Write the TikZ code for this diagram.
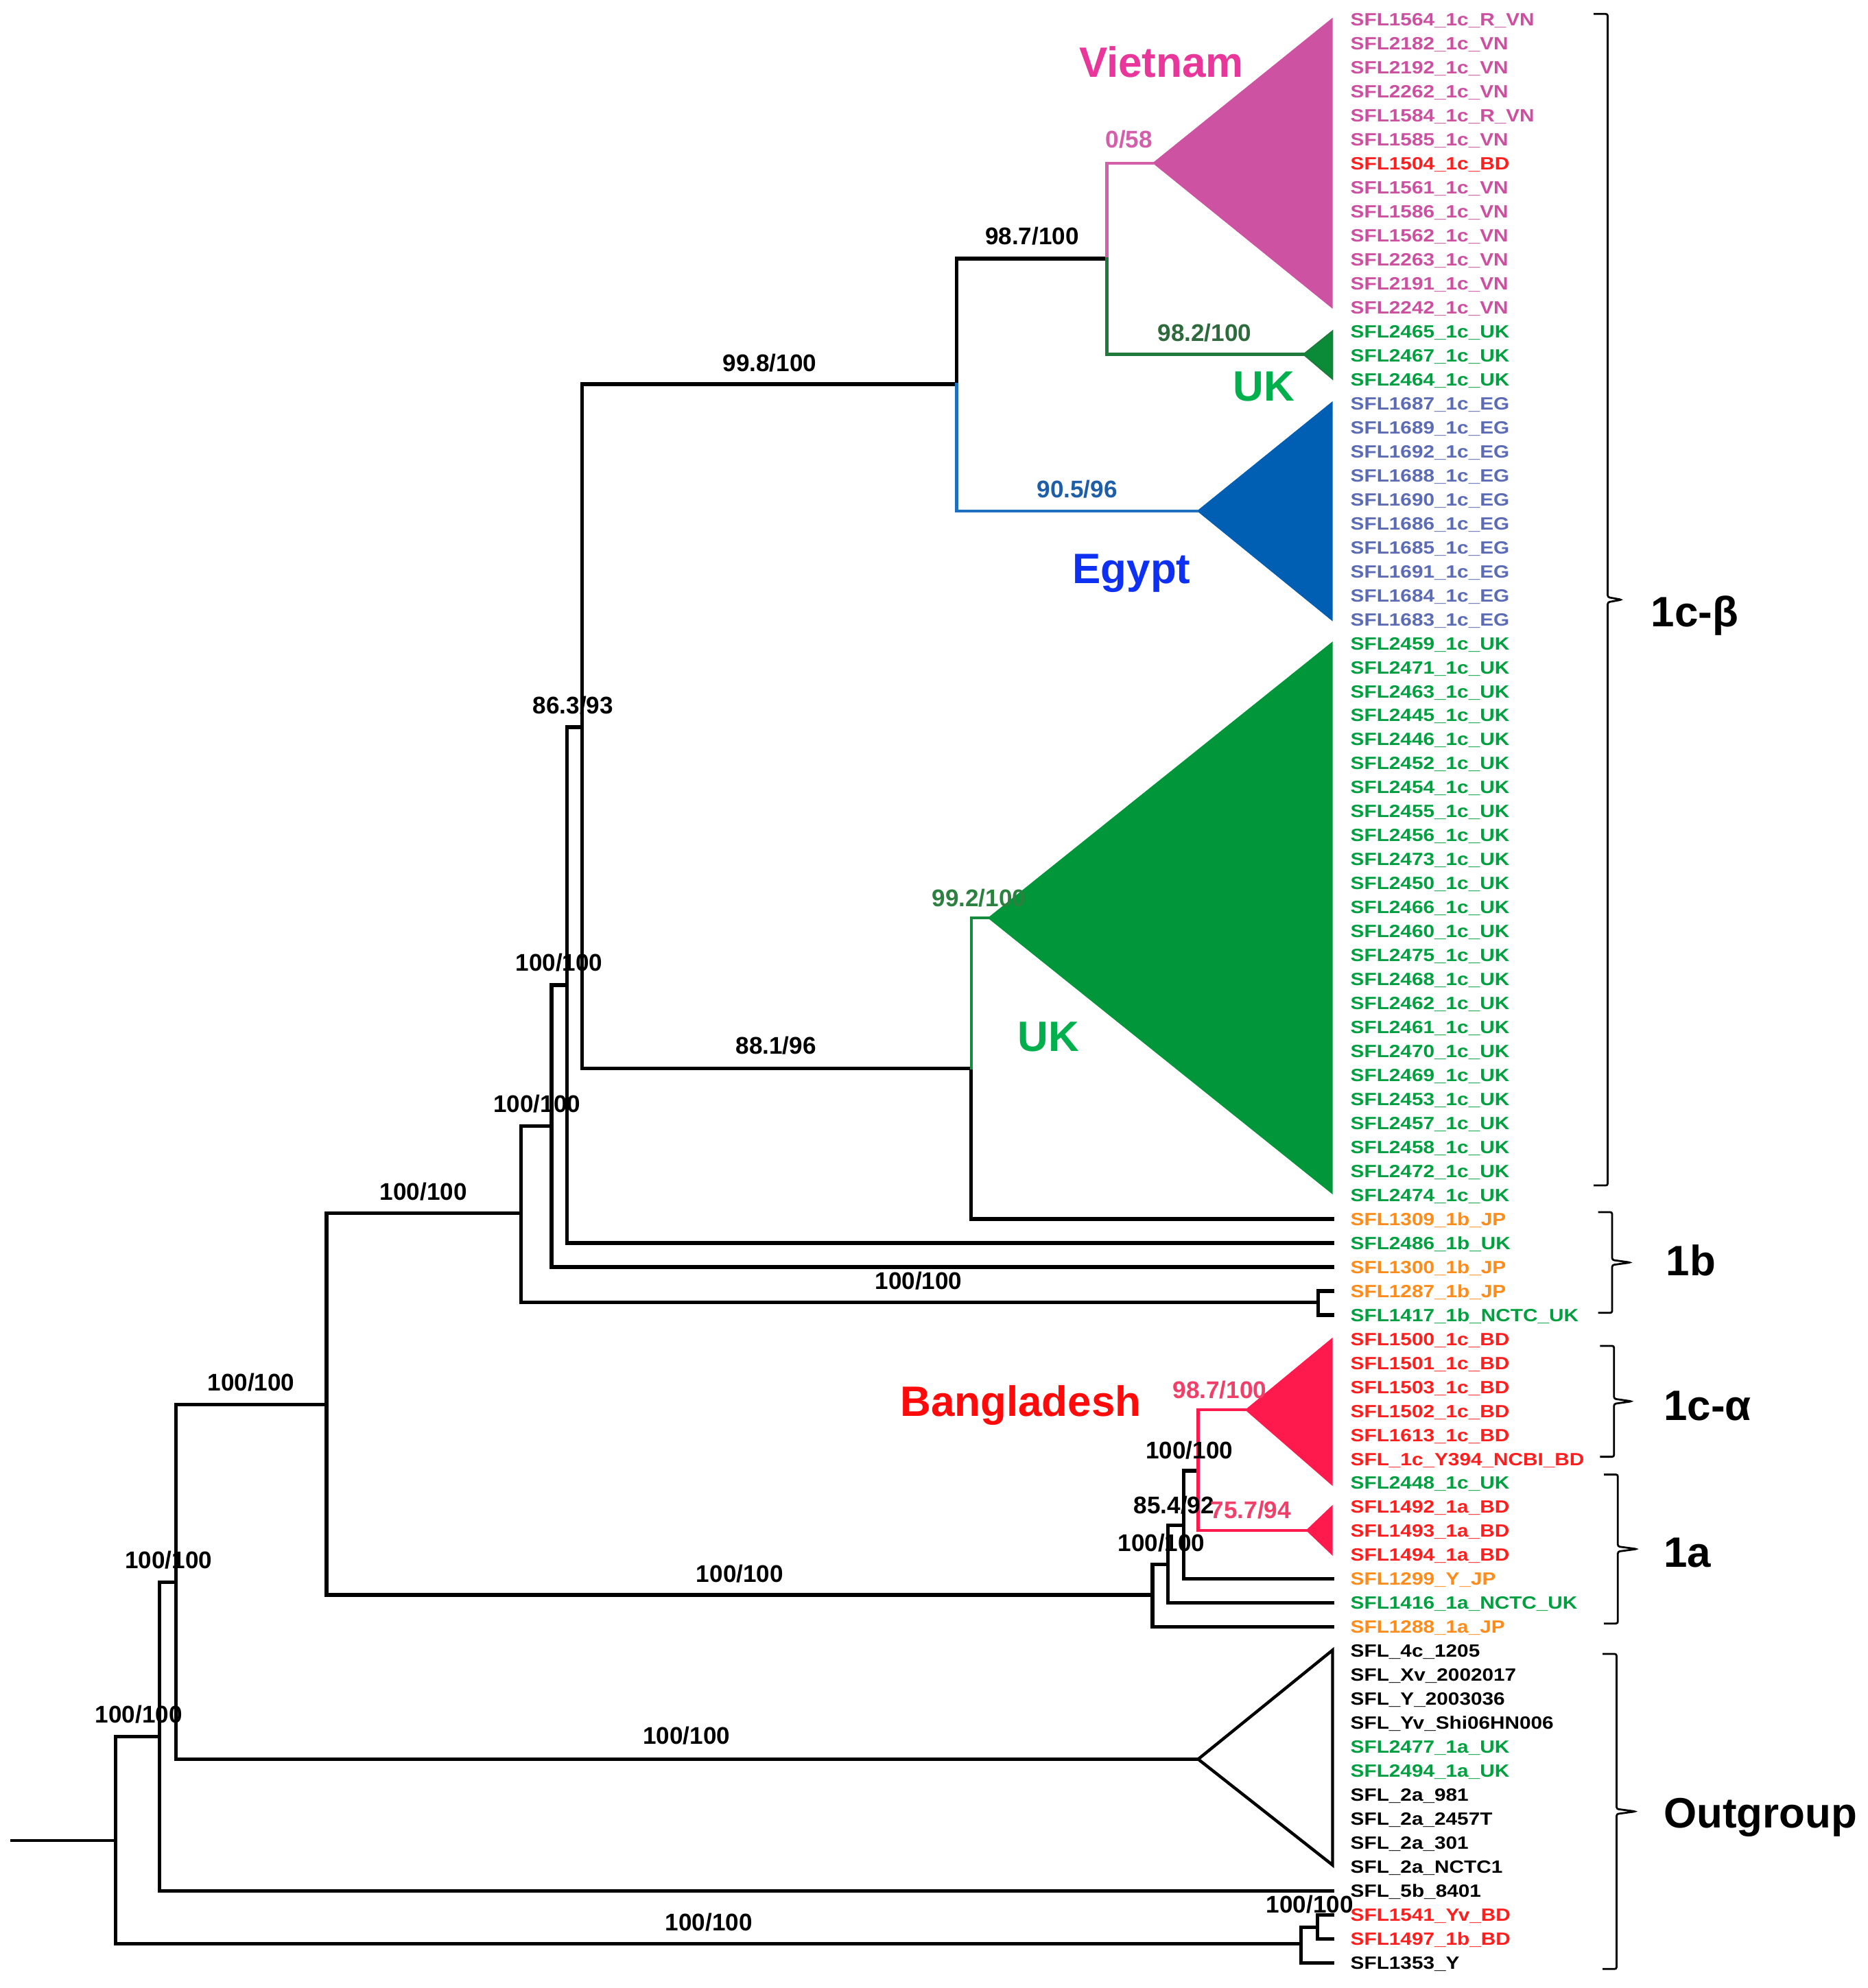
\documentclass[tikz,border=0pt]{standalone}
\usepackage{fontspec}
\setmainfont{Liberation Sans}
\newfontfamily\labfont[FakeStretch=1.15]{Liberation Sans}
\definecolor{vn}{HTML}{CC4FA0}
\definecolor{bd}{HTML}{FF1E1E}
\definecolor{uk}{HTML}{00A040}
\definecolor{eg}{HTML}{5B6BB5}
\definecolor{jp}{HTML}{FF8C1A}
\definecolor{blk}{HTML}{000000}
\definecolor{vnT}{HTML}{CD53A2}
\definecolor{vnB}{HTML}{D35FAA}
\definecolor{vnBig}{HTML}{E8369A}
\definecolor{ukT}{HTML}{009639}
\definecolor{ukS}{HTML}{0B8A38}
\definecolor{ukB}{HTML}{1F7A3C}
\definecolor{ukB2}{HTML}{168A3D}
\definecolor{ukBig}{HTML}{00B04C}
\definecolor{egT}{HTML}{005EB3}
\definecolor{egB}{HTML}{1D6FBF}
\definecolor{egBig}{HTML}{0D30F2}
\definecolor{egS}{HTML}{1E5EA8}
\definecolor{bdT}{HTML}{FF1A4D}
\definecolor{bdS}{HTML}{F0406A}
\definecolor{bdBig}{HTML}{FF0A0A}
\definecolor{ukSup}{HTML}{2E6B3C}
\definecolor{ukSup2}{HTML}{2C8040}
\begin{document}
\begin{tikzpicture}[x=1pt,y=-1pt,
  br/.style={line width=2.8pt, line cap=rect, line join=miter},
  cbr/.style={line width=2.3pt, line cap=rect, line join=miter},
  sup/.style={font=\fontsize{19}{19}\selectfont\bfseries, inner sep=0, anchor=base},
  lab/.style={font=\labfont\fontsize{14}{14}\selectfont\bfseries, inner sep=0, anchor=base west},
  big/.style={font=\fontsize{33.5}{33.5}\selectfont\bfseries, inner sep=0, anchor=base},
  grp/.style={font=\fontsize{33.5}{33.5}\selectfont\bfseries, inner sep=0, anchor=base west},
  brc/.style={line width=1.5pt, rounded corners=1.5pt}]
\useasboundingbox (0,0) rectangle (1473,1568);
\fill[white] (0,0) rectangle (1473,1568);

% ---------- leaf labels ----------
\foreach \t/\c [count=\i] in {
SFL1564\_1c\_R\_VN/vn, SFL2182\_1c\_VN/vn, SFL2192\_1c\_VN/vn, SFL2262\_1c\_VN/vn,
SFL1584\_1c\_R\_VN/vn, SFL1585\_1c\_VN/vn, SFL1504\_1c\_BD/bd, SFL1561\_1c\_VN/vn,
SFL1586\_1c\_VN/vn, SFL1562\_1c\_VN/vn, SFL2263\_1c\_VN/vn, SFL2191\_1c\_VN/vn,
SFL2242\_1c\_VN/vn, SFL2465\_1c\_UK/uk, SFL2467\_1c\_UK/uk, SFL2464\_1c\_UK/uk,
SFL1687\_1c\_EG/eg, SFL1689\_1c\_EG/eg, SFL1692\_1c\_EG/eg, SFL1688\_1c\_EG/eg,
SFL1690\_1c\_EG/eg, SFL1686\_1c\_EG/eg, SFL1685\_1c\_EG/eg, SFL1691\_1c\_EG/eg,
SFL1684\_1c\_EG/eg, SFL1683\_1c\_EG/eg,
SFL2459\_1c\_UK/uk, SFL2471\_1c\_UK/uk, SFL2463\_1c\_UK/uk, SFL2445\_1c\_UK/uk,
SFL2446\_1c\_UK/uk, SFL2452\_1c\_UK/uk, SFL2454\_1c\_UK/uk, SFL2455\_1c\_UK/uk,
SFL2456\_1c\_UK/uk, SFL2473\_1c\_UK/uk, SFL2450\_1c\_UK/uk, SFL2466\_1c\_UK/uk,
SFL2460\_1c\_UK/uk, SFL2475\_1c\_UK/uk, SFL2468\_1c\_UK/uk, SFL2462\_1c\_UK/uk,
SFL2461\_1c\_UK/uk, SFL2470\_1c\_UK/uk, SFL2469\_1c\_UK/uk, SFL2453\_1c\_UK/uk,
SFL2457\_1c\_UK/uk, SFL2458\_1c\_UK/uk, SFL2472\_1c\_UK/uk, SFL2474\_1c\_UK/uk,
SFL1309\_1b\_JP/jp, SFL2486\_1b\_UK/uk, SFL1300\_1b\_JP/jp, SFL1287\_1b\_JP/jp,
SFL1417\_1b\_NCTC\_UK/uk,
SFL1500\_1c\_BD/bd, SFL1501\_1c\_BD/bd, SFL1503\_1c\_BD/bd, SFL1502\_1c\_BD/bd,
SFL1613\_1c\_BD/bd, SFL\_1c\_Y394\_NCBI\_BD/bd,
SFL2448\_1c\_UK/uk, SFL1492\_1a\_BD/bd, SFL1493\_1a\_BD/bd, SFL1494\_1a\_BD/bd,
SFL1299\_Y\_JP/jp, SFL1416\_1a\_NCTC\_UK/uk, SFL1288\_1a\_JP/jp,
SFL\_4c\_1205/blk, SFL\_Xv\_2002017/blk, SFL\_Y\_2003036/blk, SFL\_Yv\_Shi06HN006/blk,
SFL2477\_1a\_UK/uk, SFL2494\_1a\_UK/uk, SFL\_2a\_981/blk, SFL\_2a\_2457T/blk,
SFL\_2a\_301/blk, SFL\_2a\_NCTC1/blk, SFL\_5b\_8401/blk,
SFL1541\_Yv\_BD/bd, SFL1497\_1b\_BD/bd, SFL1353\_Y/blk}{
  \pgfmathsetmacro\yy{15.5+(\i-1)*18.92}
  \node[lab, text=\c] (L\i) at (1065,\yy+5) {\t};
  \coordinate (t\i) at (1051,\yy);
}

% ---------- internal nodes ----------
\coordinate (r0) at (9,1451.6);
\coordinate (nR) at (91,1451.6);
\coordinate (nA) at (126,1369.5);
\coordinate (nZ) at (1026,1533);
\coordinate (nY) at (1039,1520);
\coordinate (nB) at (139,1248);
\coordinate (nC) at (257.5,1108);
\coordinate (nD) at (411,957);
\coordinate (nE) at (909,1258);
\coordinate (nF) at (921,1234);
\coordinate (nG) at (933.5,1203);
\coordinate (nH) at (945,1160);
\coordinate (nI) at (435,888);
\coordinate (nJ) at (1039.5,1027);
\coordinate (nK) at (447,777);
\coordinate (nL) at (459,573.5);
\coordinate (nM) at (754.5,303);
\coordinate (nN) at (766,842.5);
\coordinate (nO) at (873,204);
% collapsed clade apexes
\coordinate (aVN) at (909,128.6);
\coordinate (aUKs) at (1028,279.5);
\coordinate (aEG) at (944,403);
\coordinate (aUKb) at (779,724);
\coordinate (aBD1) at (982,1112);
\coordinate (aBD2) at (1030,1207);
\coordinate (aOG) at (945,1387.5);

% ---------- collapsed clades ----------
\fill[vnT] (aVN) -- (1051,14) -- (1051,243.5) -- cycle;
\filldraw[fill=ukS, draw=ukB, line width=1pt, line join=miter] (aUKs) -- (1051,261) -- (1051,299) -- cycle;
\fill[egT] (aEG) -- (1051,316.5) -- (1051,490) -- cycle;
\fill[ukT] (aUKb) -- (1051,506) -- (1051,942) -- cycle;
\fill[bdT] (aBD1) -- (1051,1055) -- (1051,1172) -- cycle;
\fill[bdT] (aBD2) -- (1051,1187) -- (1051,1227) -- cycle;
\draw[line width=2.4pt, line join=miter, fill=white] (aOG) -- (1051,1301.5) -- (1051,1471) -- cycle;

% ---------- branches ----------
\draw[br, line width=2pt] (r0) -- (nR);
\draw[br] (nR) |- (nA);
\draw[br] (nR) |- (nZ);
\draw[br] (nZ) |- (nY);
\draw[br] (nZ) |- (t82);
\draw[br] (nY) |- (t80);
\draw[br] (nY) |- (t81);
\draw[br] (nA) |- (nB);
\draw[br] (nA) |- (t79);
\draw[br] (nB) |- (nC);
\draw[br] (nB) |- (aOG);
\draw[br] (nC) |- (nD);
\draw[br] (nC) |- (nE);
\draw[br] (nE) |- (nF);
\draw[br] (nE) |- (t68);
\draw[br] (nF) |- (nG);
\draw[br] (nF) |- (t67);
\draw[br] (nG) |- (nH);
\draw[br] (nG) |- (t66);
\draw[br] (nD) |- (nI);
\draw[br] (nD) |- (nJ);
\draw[br] (nJ) |- (t54);
\draw[br] (nJ) |- (t55);
\draw[br] (nI) |- (nK);
\draw[br] (nI) |- (t53);
\draw[br] (nK) |- (nL);
\draw[br] (nK) |- (t52);
\draw[br] (nL) |- (nM);
\draw[br] (nL) |- (nN);
\draw[br] (nM) |- (nO);
\draw[br] (nN) |- (t51);
\draw[cbr, draw=egB] (nM) |- (aEG);
\draw[cbr, draw=vnB] (nO) |- (aVN);
\draw[cbr, draw=ukB] (nO) |- (aUKs);
\draw[cbr, draw=ukB2] (nN) |- (aUKb);
\draw[cbr, draw=bdT] (nH) |- (aBD1);
\draw[cbr, draw=bdT] (nH) |- (aBD2);

% ---------- support values ----------
\node[sup, text=vnB] (s1) at (890.5,110+6.8) {0/58};
\node[sup] (s2) at (814,186+6.8) {98.7/100};
\node[sup, text=ukSup] (s3) at (950,262.5+6.8) {98.2/100};
\node[sup] (s4) at (607,286+6.8) {99.8/100};
\node[sup, text=egS] (s5) at (849.5,386+6.8) {90.5/96};
\node[sup] (s6) at (452,556+6.8) {86.3/93};
\node[sup, text=ukSup2] (s7) at (772,708+6.8) {99.2/100};
\node[sup] (s8) at (441,759+6.8) {100/100};
\node[sup] (s9) at (423.5,870.5+6.8) {100/100};
\node[sup] (s10) at (612,824.5+6.8) {88.1/96};
\node[sup] (s11) at (334,940+6.8) {100/100};
\node[sup] (s12) at (724.5,1010+6.8) {100/100};
\node[sup] (s13) at (198,1090+6.8) {100/100};
\node[sup, text=bdS] (s14) at (962,1096+6.8) {98.7/100};
\node[sup] (s15) at (938,1143.5+6.8) {100/100};
\node[sup] (s16) at (926,1187+6.8) {85.4/92};
\node[sup, text=bdS] (s17) at (986.5,1191+6.8) {75.7/94};
\node[sup] (s18) at (916,1217+6.8) {100/100};
\node[sup] (s19) at (583.5,1241+6.8) {100/100};
\node[sup] (s20) at (133,1230.5+6.8) {100/100};
\node[sup] (s21) at (109.5,1352+6.8) {100/100};
\node[sup] (s22) at (541.5,1369+6.8) {100/100};
\node[sup] (s23) at (1033,1502+6.8) {100/100};
\node[sup] (s24) at (559,1516+6.8) {100/100};

% ---------- clade names ----------
\node[big, text=vnBig] (gVN) at (916,49+12) {Vietnam};
\node[big, text=ukBig] (gUK1) at (997,304+12) {UK};
\node[big, text=egBig] (gEG) at (892.5,448+12) {Egypt};
\node[big, text=ukBig] (gUK2) at (827,817+12) {UK};
\node[big, text=bdBig] (gBD) at (805,1105+12) {Bangladesh};

% ---------- group braces ----------
\newcommand\grpbrace[4]{\draw[brc] (#3-11,#1) -- (#3,#1) -- (#3,{(#1+#2)/2-2}) -- (#4,{(#1+#2)/2}) -- (#3,{(#1+#2)/2+2}) -- (#3,#2) -- (#3-11,#2);}
\grpbrace{11}{935}{1268}{1279}
\grpbrace{956}{1035.5}{1271.5}{1286}
\grpbrace{1061.5}{1149}{1273}{1287}
\grpbrace{1163}{1280.5}{1276}{1291}
\grpbrace{1304.5}{1553}{1275}{1290}
\node[grp] (c1) at (1302,482+12) {1c-β};
\node[grp] (c2) at (1314,994+12) {1b};
\node[grp] (c3) at (1312,1108+12) {1c-α};
\node[grp] (c4) at (1312,1224+12) {1a};
\node[grp] (c5) at (1312,1429.5+12) {Outgroup};
\end{tikzpicture}
\end{document}
